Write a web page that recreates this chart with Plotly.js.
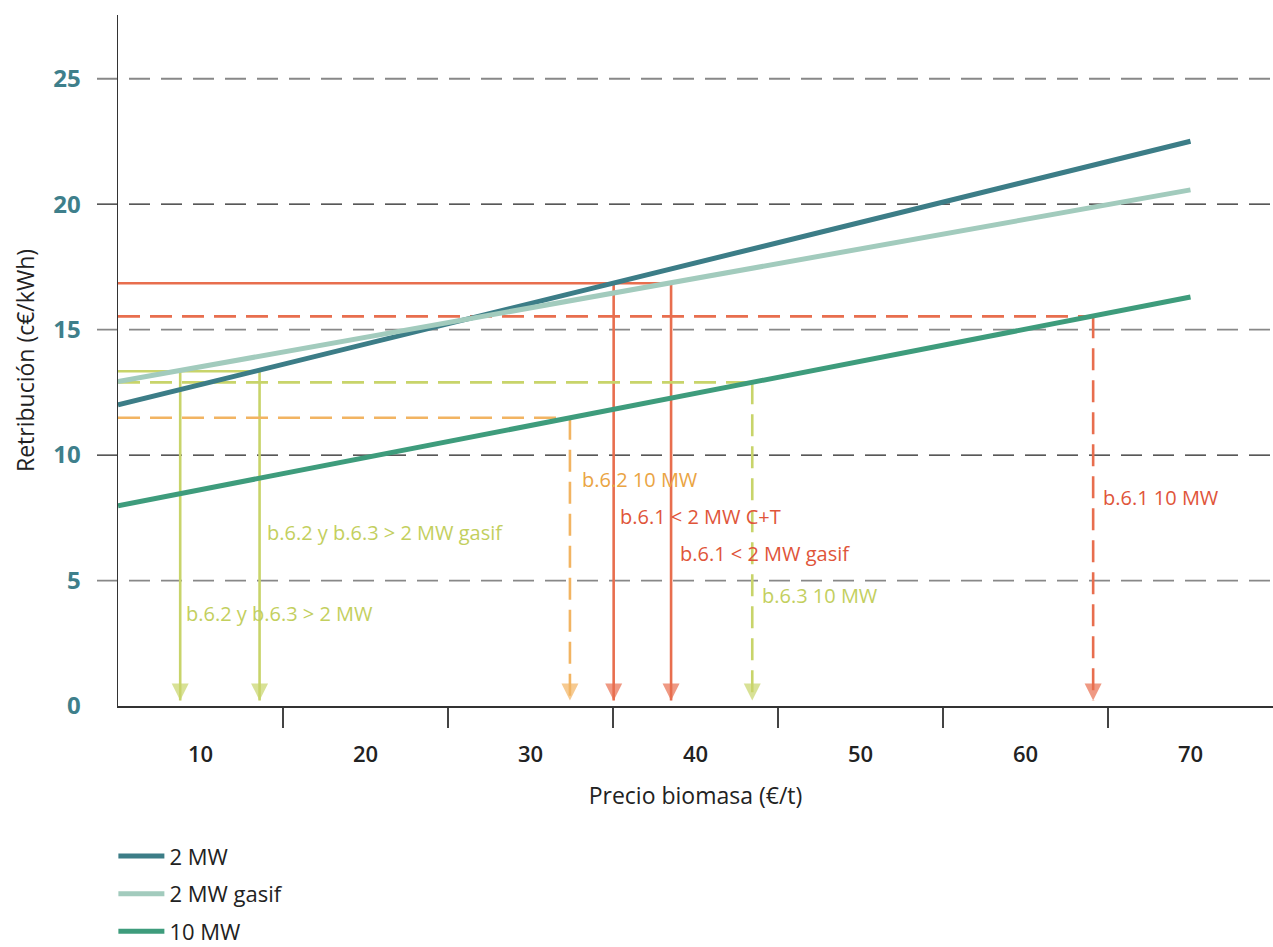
<!DOCTYPE html>
<html><head><meta charset="utf-8">
<script src="https://cdn.plot.ly/plotly-3.0.1.min.js"></script>
<style>html,body{margin:0;padding:0;background:#fff;}#chart{width:1273px;height:947px;}</style>
</head><body><div id="chart"></div>
<script>
// ---- data ----
const xEnds = [5, 70];
const mw2 = [12.0, 22.51];
const mw2Gasif = [12.93, 20.57];
const mw10 = [7.98, 16.30];
const seriesNames = ['2 MW', '2 MW gasif', '10 MW'];

const xTickVals = [10, 20, 30, 40, 50, 60, 70];
const xTickMarks = [15, 25, 35, 45, 55, 65];
const yTickVals = [0, 5, 10, 15, 20, 25];
const gridVals = [5, 10, 15, 20, 25];

// reference levels (horizontal line value, end of horizontal, vertical drop positions)
const refLevelY = [16.85, 15.53, 13.34, 12.90, 11.49];
const refLevelXEnd = [38.52, 64.10, 13.58, 43.44, 32.39];
const refDropX = [[35.04, 38.52], [64.10], [8.77, 13.58], [43.44], [32.39]];
const refColorKey = ['red', 'red', 'lime', 'lime', 'orange'];
const refDashed = [false, true, false, true, true];
const arrowTipY = 0.22;

const labelTexts = ['b.6.2 10 MW', 'b.6.1 < 2 MW C+T', 'b.6.1 < 2 MW gasif', 'b.6.3 10 MW', 'b.6.1 10 MW', 'b.6.2 y b.6.3 > 2 MW gasif', 'b.6.2 y b.6.3 > 2 MW'];
const labelX = [33.0, 35.33, 38.92, 43.9, 64.58, 13.9, 9.02];
const labelY = [9.01, 7.55, 6.06, 4.4, 8.3, 6.93, 3.69];
const labelColorKey = ['orange', 'red', 'red', 'lime', 'red', 'lime', 'lime'];

// ---- styles ----
const lineColors = {red: '#e86e4e', lime: '#c8d46a', orange: '#f2b462'};
const textColors = {red: '#e0553a', lime: '#c3cf5e', orange: '#eaa443'};
const seriesColors = ['#3c7d87', '#a2cbbd', '#3e9c7c'];
const FONT = '"Open Sans", Roboto, sans-serif';

const traces = [];
refLevelY.forEach((yv, i) => {
  const xs = [xEnds[0], refLevelXEnd[i]];
  const ys = [yv, yv];
  const sizes = [0, 0];
  refDropX[i].forEach(xd => {
    xs.push(null, xd, xd); ys.push(null, yv, arrowTipY); sizes.push(0, 0, 17);
  });
  traces.push({
    x: xs, y: ys, mode: 'lines+markers', showlegend: false, hoverinfo: 'skip',
    line: {color: lineColors[refColorKey[i]], width: 2.6, dash: refDashed[i] ? '22px,10px' : 'solid'},
    marker: {symbol: 'arrow-down', size: sizes, color: lineColors[refColorKey[i]], line: {width: 0}},
    connectgaps: false
  });
});
[mw2, mw2Gasif, mw10].forEach((ys, i) => {
  traces.push({
    x: xEnds, y: ys, mode: 'lines', name: seriesNames[i],
    line: {color: seriesColors[i], width: 5}, legendgroup: 'g' + i
  });
});

const shapes = gridVals.map((g, i) => ({
  type: 'line', xref: 'paper', yref: 'y', x0: -21 / 1155, x1: 1, y0: g, y1: g,
  line: {color: (g % 10 === 0) ? '#222' : '#888', width: (g % 10 === 0) ? 1.2 : 1.8, dash: '21px,11px'},
  layer: 'below'
}));

const annotations = labelTexts.map((t, i) => ({
  text: t, x: labelX[i], y: labelY[i], xref: 'x', yref: 'y', showarrow: false,
  xanchor: 'left', yanchor: 'middle', font: {family: FONT, size: 20, weight: 500, color: textColors[labelColorKey[i]]}
}));

const layout = {
  width: 1273, height: 947,
  margin: {l: 118, r: 0, t: 15, b: 241},
  paper_bgcolor: '#fff', plot_bgcolor: '#fff',
  font: {family: FONT, color: '#222'},
  showlegend: true,
  legend: {x: -0.004, xref: 'paper', y: 0.118, yref: 'container', xanchor: 'left', yanchor: 'top', orientation: 'v',
    font: {family: FONT, size: 22, color: '#222'}, traceorder: 'grouped', tracegroupgap: 6, itemwidth: 46},
  xaxis: {
    range: [5, 75], tickmode: 'array', tickvals: xTickVals, ticks: '', automargin: false,
    showline: true, linecolor: '#333', linewidth: 1.5, showgrid: false, zeroline: false,
    tickfont: {family: FONT, size: 22, color: '#222', weight: 600}, ticklabelstandoff: 28,
    minor: {tickmode: 'array', tickvals: xTickMarks, ticks: 'outside', ticklen: 20, tickcolor: '#444', tickwidth: 1.3, showgrid: false},
    title: {text: 'Precio biomasa (€/t)', font: {family: FONT, size: 23, color: '#222'}, standoff: 21}
  },
  yaxis: {
    range: [0, 27.54], tickmode: 'array', tickvals: yTickVals, ticks: '', automargin: false,
    showline: true, linecolor: '#333', linewidth: 1.5, showgrid: false, zeroline: false,
    tickfont: {family: FONT, size: 24, color: '#3e7f8b', weight: 'bold'}, ticklabelstandoff: 31,
    title: {text: 'Retribución (c€/kWh)', font: {family: FONT, size: 23, color: '#222'}, standoff: 12}
  },
  shapes: shapes,
  annotations: annotations
};

Plotly.newPlot('chart', traces, layout, {staticPlot: true, displayModeBar: false});
</script></body></html>
